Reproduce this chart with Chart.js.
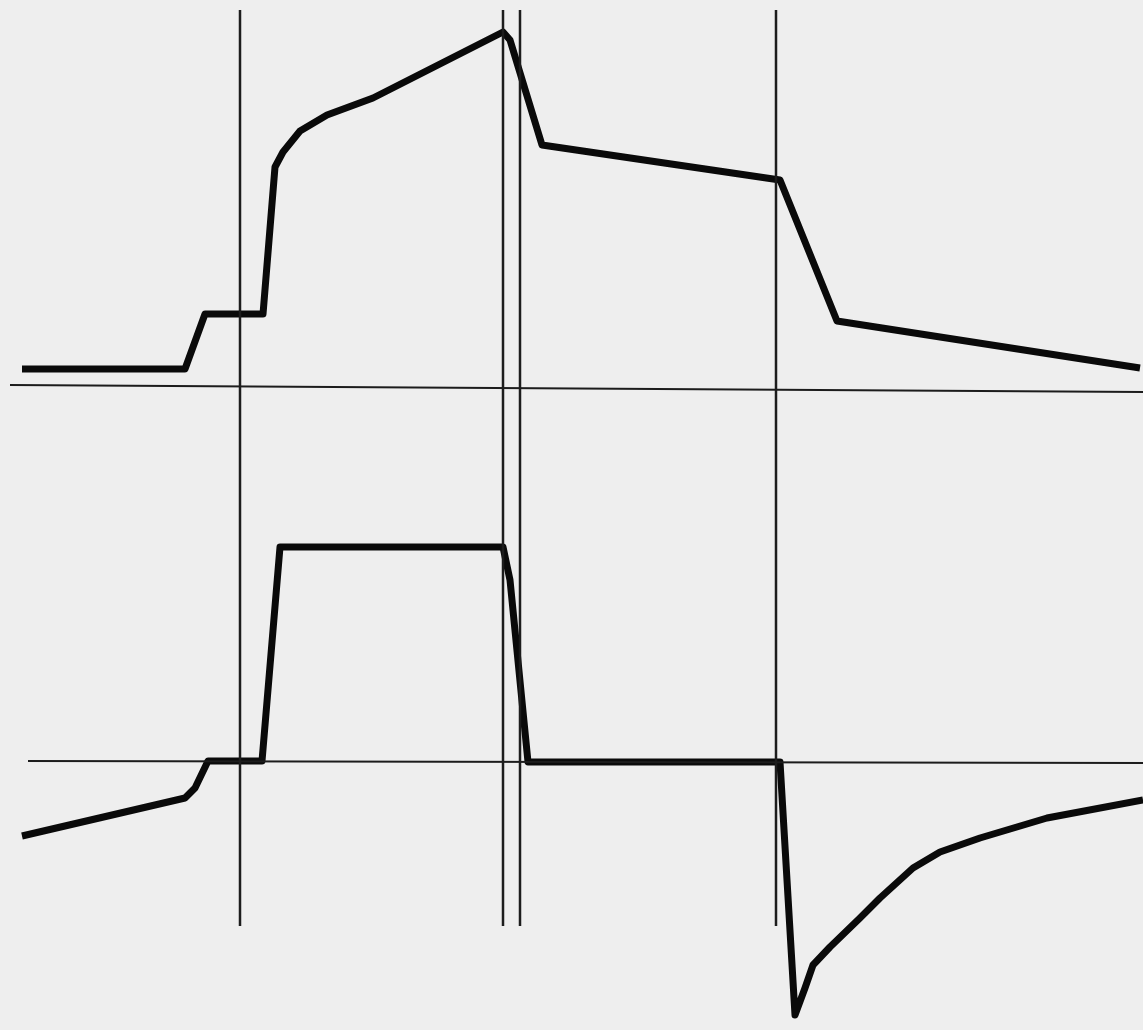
<!DOCTYPE html>
<html>
<head>
<meta charset="utf-8">
<script src="https://cdn.jsdelivr.net/npm/chart.js@4"></script>
<style>
  html, body { margin: 0; padding: 0; background: #eeeeee; }
  #wrap { width: 1143px; height: 1030px; position: relative; }
</style>
</head>
<body>
<div id="wrap"><canvas id="c"></canvas></div>
<script>
// Upper trace (time, amplitude units)
const topTime  = [22, 185, 205, 263, 275, 283, 300, 327, 373, 503, 510, 542, 780, 837, 1140];
const topValue = [661, 661, 716, 716, 863, 878, 899, 915, 932, 998, 990, 885, 850, 709, 662];
// Lower trace
const bottomTime  = [22, 185, 195, 208, 262, 280, 503, 510, 528, 780, 795, 805, 813, 830, 860, 880, 913, 940, 980, 1047, 1143];
const bottomValue = [194, 232, 242, 269, 269, 483, 483, 450, 268, 268, 15, 42, 65, 83, 112, 132, 162, 178, 192, 212, 230];
// Reference (zero) lines
const topBaseTime = [10, 1143];
const topBaseValue = [645, 638];
const bottomBaseTime = [28, 1143];
const bottomBaseValue = [269, 267];
// Vertical event markers
const markerTimes = [240, 503, 520, 776];
const markerTop = 1020;
const markerBottom = 104;

const pts = (xs, ys) => xs.map((x, i) => ({ x: x, y: ys[i] }));

const datasets = [];
markerTimes.forEach(t => {
  datasets.push({
    data: [{ x: t, y: markerBottom }, { x: t, y: markerTop }],
    borderColor: '#1c1c1c', borderWidth: 2.5, pointRadius: 0, showLine: true
  });
});
datasets.push({ data: pts(topBaseTime, topBaseValue), borderColor: '#1c1c1c', borderWidth: 2.2, pointRadius: 0, showLine: true });
datasets.push({ data: pts(bottomBaseTime, bottomBaseValue), borderColor: '#1c1c1c', borderWidth: 2.2, pointRadius: 0, showLine: true });
datasets.push({ data: pts(topTime, topValue), borderColor: '#0a0a0a', borderWidth: 7, pointRadius: 0, showLine: true,
  borderJoinStyle: 'round', borderCapStyle: 'butt', tension: 0 });
datasets.push({ data: pts(bottomTime, bottomValue), borderColor: '#0a0a0a', borderWidth: 7, pointRadius: 0, showLine: true,
  borderJoinStyle: 'round', borderCapStyle: 'butt', tension: 0 });

new Chart(document.getElementById('c'), {
  type: 'scatter',
  data: { datasets },
  options: {
    responsive: true,
    maintainAspectRatio: false,
    animation: false,
    layout: { padding: 0 },
    plugins: { legend: { display: false }, tooltip: { enabled: false } },
    elements: { line: { fill: false } },
    datasets: { scatter: { clip: false } },
    scales: {
      x: { type: 'linear', min: 0, max: 1143, display: false },
      y: { type: 'linear', min: 0, max: 1030, display: false }
    }
  }
});
</script>
</body>
</html>
